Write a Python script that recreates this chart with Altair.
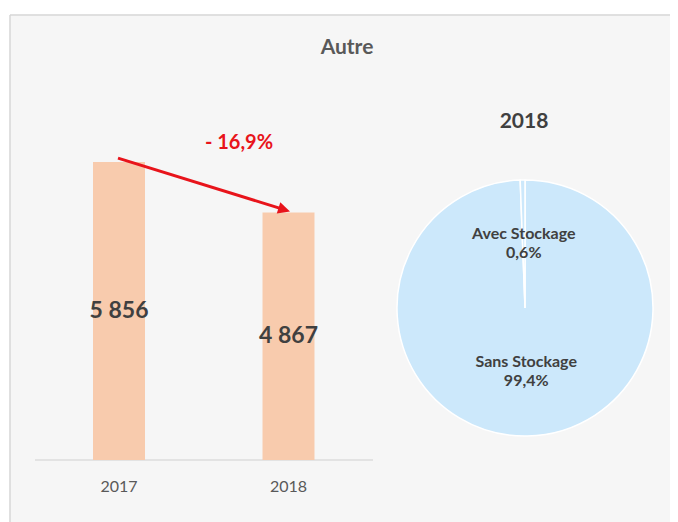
import altair as alt
import pandas as pd

# ---- data ----
years = ["2017", "2018"]
values = [5856, 4867]
value_labels = ["5 856", "4 867"]
change_label = "- 16,9%"
chart_title = "Autre"
pie_title = "2018"
pie_cats = ["Sans Stockage", "Avec Stockage"]
pie_shares = [99.4, 0.6]
pie_labels = ["Sans Stockage\n99,4%", "Avec Stockage\n0,6%"]

bars_df = pd.DataFrame({"year": years, "value": values, "label": value_labels})
arrow_df = pd.DataFrame({"from_year": [years[0]], "to_year": [years[1]],
                         "from_val": [values[0]], "to_val": [values[1]]})
pie_df = pd.DataFrame({"cat": pie_cats, "share": pie_shares, "label": pie_labels,
                       "ord": list(range(len(pie_cats)))})

W, H = 660, 507
FONT = "Lato"
RED = "#e8141b"

xscale = alt.Scale(type="point", domain=years, range=[109, 278.5], padding=0)
yscale = alt.Scale(domain=[0, 8000], range=[445, 38])

base = alt.Chart(bars_df)

frame_top = alt.Chart(pd.DataFrame({"a": [0]})).mark_rule(color="#d6d6d6", strokeWidth=1.5).encode(
    x=alt.value(0), x2=alt.value(W), y=alt.value(0))
frame_left = alt.Chart(pd.DataFrame({"a": [0]})).mark_rule(color="#d6d6d6", strokeWidth=1.5).encode(
    x=alt.value(0), y=alt.value(0), y2=alt.value(H))

axis_line = alt.Chart(pd.DataFrame({"zero": [0]})).mark_rule(color="#d0d0d0", strokeWidth=1).encode(
    y=alt.Y("zero:Q", scale=yscale, axis=None), x=alt.value(25), x2=alt.value(363))

bars = base.mark_bar(size=52, color="#f8cbad").encode(
    x=alt.X("year:N", scale=xscale, axis=None),
    y=alt.Y("value:Q", scale=yscale, axis=None),
)

bar_text = base.transform_calculate(half="datum.value / 2").mark_text(
    font=FONT, fontSize=23, fontWeight="bold", color="#404040", baseline="middle"
).encode(x=alt.X("year:N", scale=xscale, axis=None),
         y=alt.Y("half:Q", scale=yscale, axis=None), text="label:N")

year_text = base.transform_calculate(zero="0").mark_text(
    font=FONT, fontSize=16, color="#595959", baseline="middle", dy=27
).encode(x=alt.X("year:N", scale=xscale, axis=None),
         y=alt.Y("zero:Q", scale=yscale, axis=None), text="year:N")

arrow = alt.Chart(arrow_df).mark_rule(
    color=RED, strokeWidth=3, xOffset=-1, yOffset=-4, x2Offset=-4.2, y2Offset=-2.75
).encode(
    x=alt.X("from_year:N", scale=xscale, axis=None), x2="to_year:N",
    y=alt.Y("from_val:Q", scale=yscale, axis=None), y2="to_val:Q")

arrow_head = alt.Chart(arrow_df).mark_point(
    shape="M0,0L-1,-0.5L-1,0.5Z", angle=17, size=576, filled=True, opacity=1,
    color=RED, strokeWidth=0, xOffset=1.5, yOffset=-1
).encode(x=alt.X("to_year:N", scale=xscale, axis=None),
         y=alt.Y("to_val:Q", scale=yscale, axis=None))

change_text = alt.Chart(pd.DataFrame({"t": [change_label]})).mark_text(
    font=FONT, fontSize=20, fontWeight="bold", color=RED, baseline="middle"
).encode(x=alt.value(229), y=alt.value(128), text="t:N")

title_text = alt.Chart(pd.DataFrame({"t": [chart_title]})).mark_text(
    font=FONT, fontSize=21, fontWeight="bold", color="#595959", baseline="middle"
).encode(x=alt.value(337), y=alt.value(33), text="t:N")

pie_title_text = alt.Chart(pd.DataFrame({"t": [pie_title]})).mark_text(
    font=FONT, fontSize=21, fontWeight="bold", color="#404040", baseline="middle"
).encode(x=alt.value(514), y=alt.value(107), text="t:N")

pie = alt.Chart(pie_df).mark_arc(outerRadius=128, color="#cce8fb", stroke="white", strokeWidth=1.5).encode(
    theta=alt.Theta("share:Q", stack=True),
    order=alt.Order("ord:Q"),
    x=alt.value(515), y=alt.value(293))

pie_text = alt.Chart(pie_df).mark_text(
    radius=64, lineBreak="\n", font=FONT, fontSize=16, fontWeight="bold",
    color="#404040", baseline="middle", lineHeight=19, dy=-10
).encode(
    theta=alt.Theta("share:Q", stack=True),
    order=alt.Order("ord:Q"),
    x=alt.value(515), y=alt.value(293), text="label:N")

chart = alt.layer(
    frame_top, frame_left, axis_line, bars, bar_text, year_text, arrow, arrow_head,
    change_text, title_text, pie_title_text, pie, pie_text
).properties(
    width=W, height=H,
    padding={"left": 2, "top": 7, "right": 0, "bottom": 0},
    autosize=alt.AutoSizeParams(type="none"),
    background="white",
).configure_view(fill="#f6f6f6", stroke="transparent")

chart.save("out.html", embed_options={"renderer": "svg", "actions": False})
